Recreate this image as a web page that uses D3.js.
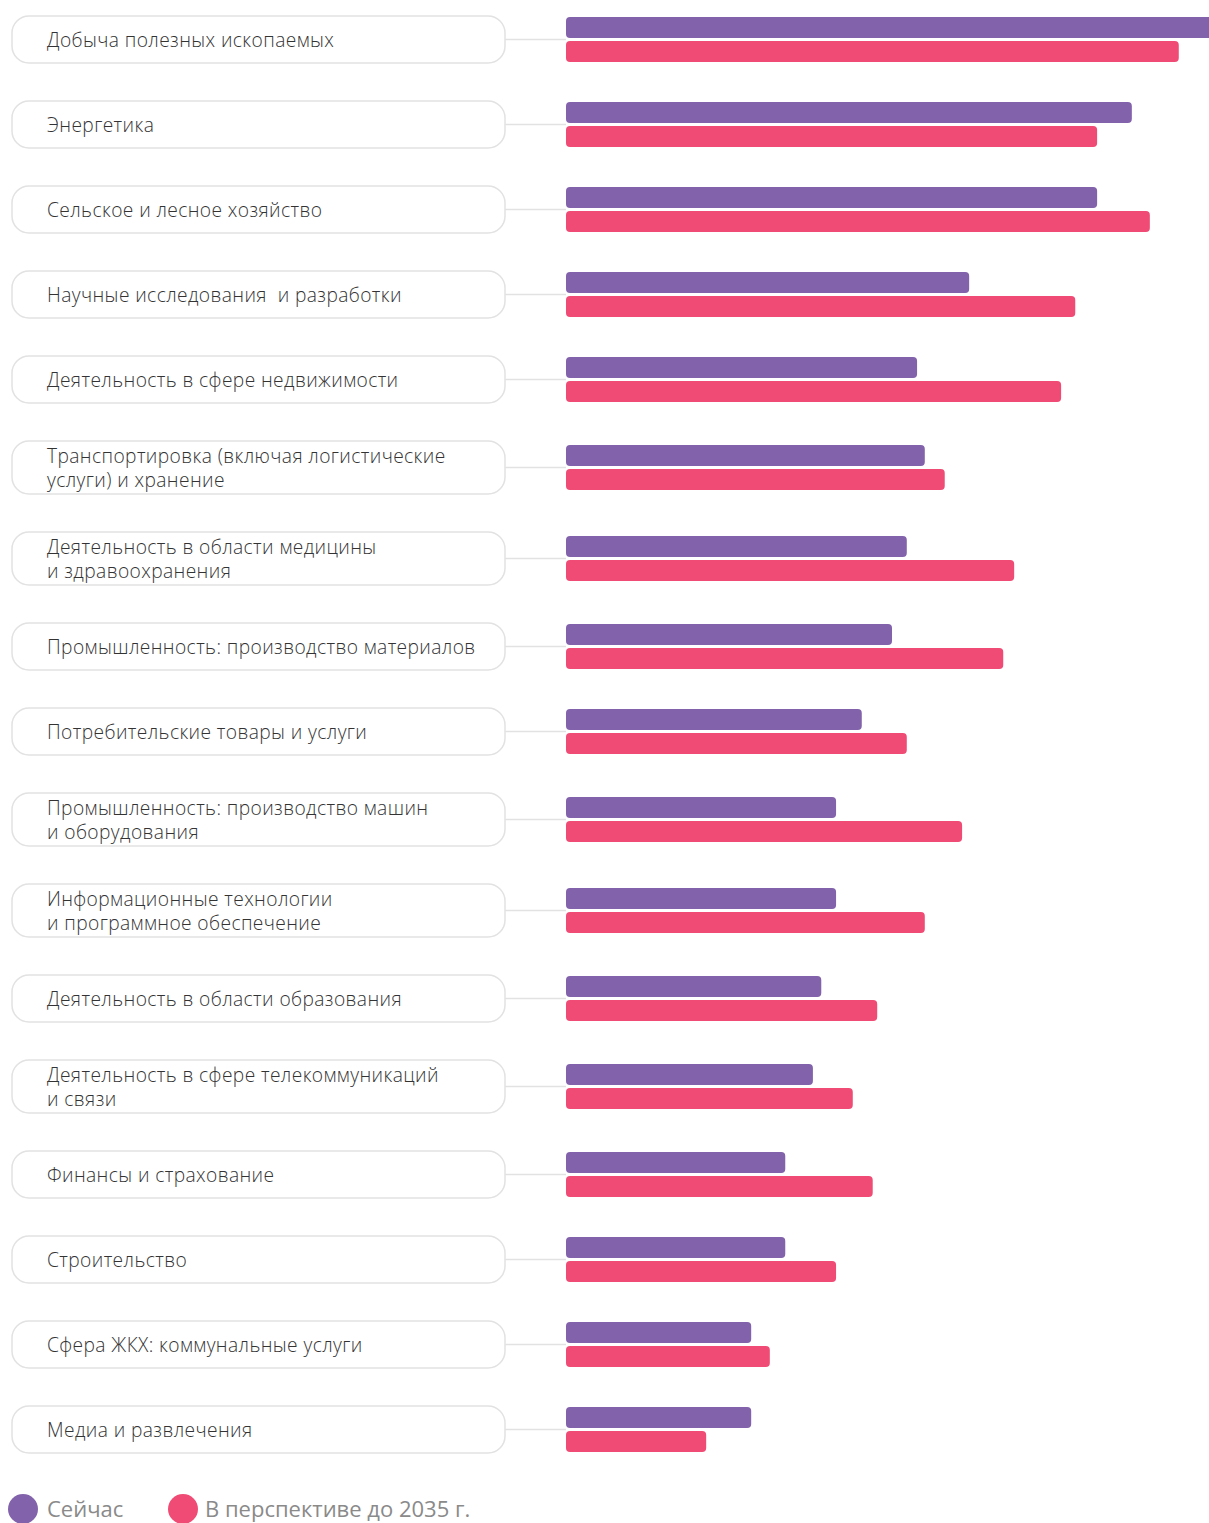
<!DOCTYPE html>
<html>
<head>
<meta charset="utf-8">
<script src="https://cdn.jsdelivr.net/npm/d3@7"></script>
<style>
  body { margin: 0; background: #fff; }
  svg { display: block; font-family: "Open Sans", sans-serif; }
</style>
</head>
<body>
<script>
"use strict";

// Отрасли (подписи, построчно)
const categories = [
  ["Добыча полезных ископаемых"],
  ["Энергетика"],
  ["Сельское и лесное хозяйство"],
  ["Научные исследования  и разработки"],
  ["Деятельность в сфере недвижимости"],
  ["Транспортировка (включая логистические", "услуги) и хранение"],
  ["Деятельность в области медицины", "и здравоохранения"],
  ["Промышленность: производство материалов"],
  ["Потребительские товары и услуги"],
  ["Промышленность: производство машин", "и оборудования"],
  ["Информационные технологии", "и программное обеспечение"],
  ["Деятельность в области образования"],
  ["Деятельность в сфере телекоммуникаций", "и связи"],
  ["Финансы и страхование"],
  ["Строительство"],
  ["Сфера ЖКХ: коммунальные услуги"],
  ["Медиа и развлечения"]
];

// values (relative units)
const nowValues = [102, 88.0, 82.6, 62.7, 54.6, 55.8, 53.0, 50.7, 46.0, 42.0, 42.0, 39.7, 38.4, 34.1, 34.1, 28.8, 28.8];
const futureValues = [95.3, 82.6, 90.8, 79.2, 77.0, 58.9, 69.7, 68.0, 53.0, 61.6, 55.8, 48.4, 44.6, 47.7, 42.0, 31.7, 21.8];

const seriesNames = ["Сейчас", "В перспективе до 2035 г."];
const colors = ["#8262ab", "#f04b75"];

const w = 1209;
const h = 1523;

const svg = d3.select("body").append("svg").attr("width", w).attr("height", h);

const x = d3.scaleLinear().domain([0, 100]).range([566, 1209]);

// vertical layout: box heights depend on number of lines
const boxH = (n) => (n > 1 ? 53 : 47);
const gap = 38;
let yPos = 16;
const rows = categories.map((lines, i) => {
  const r = { lines, i, top: yPos, height: boxH(lines.length) };
  yPos += r.height + gap;
  return r;
});

const row = svg
  .selectAll("g.row")
  .data(rows)
  .enter()
  .append("g")
  .attr("class", "row")
  .attr("transform", (d) => `translate(0, ${d.top})`);

// connector line
row
  .append("line")
  .attr("x1", 505)
  .attr("x2", x(0))
  .attr("y1", (d) => d.height / 2)
  .attr("y2", (d) => d.height / 2)
  .attr("stroke", "#e2e2e2")
  .attr("stroke-width", 1.5);

// label box
row
  .append("rect")
  .attr("x", 12)
  .attr("y", 0)
  .attr("width", 493)
  .attr("height", (d) => d.height)
  .attr("rx", 17)
  .attr("fill", "#fff")
  .attr("stroke", "#e2e2e2")
  .attr("stroke-width", 1.5);

row
  .append("text")
  .attr("x", 47)
  .attr("fill", "#333")
  .attr("font-size", 19.2)
  .attr("font-weight", 300)
  .attr("letter-spacing", 0.4)
  .style("white-space", "pre")
  .selectAll("tspan")
  .data((d) => d.lines.map((t, k) => ({ t, k, n: d.lines.length, height: d.height })))
  .enter()
  .append("tspan")
  .attr("x", 47)
  .attr("y", (d) => d.height / 2 + 1 + (d.k - (d.n - 1) / 2) * 24)
  .attr("dy", "0.35em")
  .text((d) => d.t);

// bars
const barH = 21;
row
  .append("rect")
  .attr("x", x(0))
  .attr("y", (d) => d.height / 2 - 1.5 - barH)
  .attr("width", (d) => x(nowValues[d.i]) - x(0))
  .attr("height", barH)
  .attr("rx", 4)
  .attr("fill", colors[0]);

row
  .append("rect")
  .attr("x", x(0))
  .attr("y", (d) => d.height / 2 + 1.5)
  .attr("width", (d) => x(futureValues[d.i]) - x(0))
  .attr("height", barH)
  .attr("rx", 4)
  .attr("fill", colors[1]);

// legend
const legendX = [23, 183];
const legend = svg
  .selectAll("g.legend")
  .data(seriesNames)
  .enter()
  .append("g")
  .attr("class", "legend")
  .attr("transform", (d, i) => `translate(${legendX[i]}, 1509)`);

legend.append("circle").attr("r", 15).attr("fill", (d, i) => colors[i]);

legend
  .append("text")
  .attr("x", (d, i) => (i === 0 ? 24 : 22))
  .attr("dy", "0.35em")
  .attr("fill", "#8a8a8a")
  .attr("font-size", 22)
  .text((d) => d);
</script>
</body>
</html>
